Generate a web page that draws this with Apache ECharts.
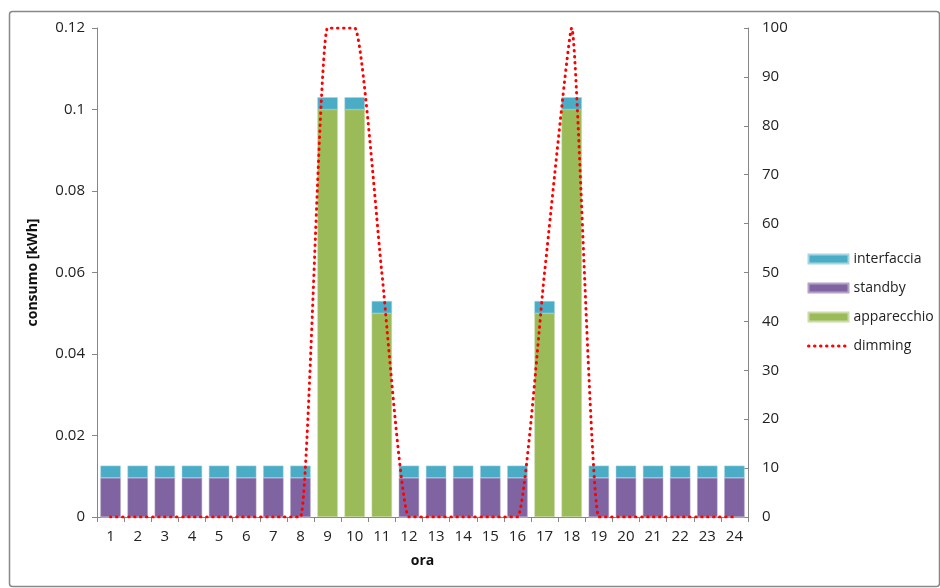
<!DOCTYPE html>
<html><head><meta charset="utf-8">
<script src="https://cdn.jsdelivr.net/npm/echarts@6/dist/echarts.min.js"></script>
<style>html,body{margin:0;padding:0;background:#fff}#c{width:940px;height:588px}</style>
</head><body><div id="c"></div>
<script>
const hours = ['1','2','3','4','5','6','7','8','9','10','11','12','13','14','15','16','17','18','19','20','21','22','23','24'];
const apparecchio = [0,0,0,0,0,0,0,0,0.1,0.1,0.05,0,0,0,0,0,0.05,0.1,0,0,0,0,0,0];
const standby = [0.0096,0.0096,0.0096,0.0096,0.0096,0.0096,0.0096,0.0096,0,0,0,0.0096,0.0096,0.0096,0.0096,0.0096,0,0,0.0096,0.0096,0.0096,0.0096,0.0096,0.0096];
const interfaccia = [0.003,0.003,0.003,0.003,0.003,0.003,0.003,0.003,0.003,0.003,0.003,0.003,0.003,0.003,0.003,0.003,0.003,0.003,0.003,0.003,0.003,0.003,0.003,0.003];
const dimming = [0,0,0,0,0,0,0,0,100,100,50,0,0,0,0,0,50,100,0,0,0,0,0,0];
const leftTicks = [0,0.02,0.04,0.06,0.08,0.1,0.12];

const font = 'Open Sans, Noto Sans, sans-serif';
const chart = echarts.init(document.getElementById('c'), null, {renderer:'canvas'});
const axisGray = '#868686';
const dotStyle = {color:'#FF0000',width:3,type:[0.5,5.5],cap:'round'};
chart.setOption({
  animation:false,
  graphic:[{type:'rect',left:7,top:9,shape:{width:930,height:575,r:3},style:{fill:'none',stroke:'#888',lineWidth:1.5},silent:true}],
  grid:{left:97,right:192,top:28,bottom:71},
  legend:{
    orient:'vertical', left:802, top:247, itemGap:15, itemWidth:40, itemHeight:9,
    textStyle:{fontFamily:font,fontSize:14,color:'#222'},
    data:[{name:'interfaccia',icon:'rect'},{name:'standby',icon:'rect'},{name:'apparecchio',icon:'rect'},
      {name:'dimming',itemStyle:{opacity:0},lineStyle:dotStyle}]
  },
  xAxis:{
    type:'category', data:hours, name:'ora', nameLocation:'middle', nameGap:37,
    nameTextStyle:{fontFamily:font,fontSize:14,fontWeight:'bold',color:'#111'},
    axisLine:{lineStyle:{color:axisGray}},
    axisTick:{show:true,length:5,lineStyle:{color:axisGray}},
    axisLabel:{fontFamily:font,fontSize:15,color:'#222',margin:12}
  },
  yAxis:[{
    type:'value', min:0, max:0.12, interval:0.02,
    name:'consumo [kWh]', nameLocation:'middle', nameGap:57, nameRotate:90,
    nameTextStyle:{fontFamily:font,fontSize:14,fontWeight:'bold',color:'#111'},
    axisLine:{show:true,lineStyle:{color:axisGray}},
    axisTick:{show:true,length:5,lineStyle:{color:axisGray}},
    splitLine:{show:false},
    axisLabel:{fontFamily:font,fontSize:15,color:'#222',margin:12,
      formatter:v=>{const t=leftTicks.find(x=>Math.abs(x-v)<1e-9);return t===undefined?'':String(+t.toFixed(2));}}
  },{
    type:'value', min:0, max:100, interval:10, position:'right',
    axisLine:{show:true,lineStyle:{color:axisGray}},
    axisTick:{show:true,inside:true,length:4,lineStyle:{color:axisGray}},
    splitLine:{show:false},
    axisLabel:{fontFamily:font,fontSize:15,color:'#222',margin:14}
  }],
  series:[
    {name:'apparecchio',type:'bar',stack:'s',data:apparecchio,barWidth:'75%',itemStyle:{color:'#9BBB59',borderColor:'#c9dca8',borderWidth:0.5}},
    {name:'standby',type:'bar',stack:'s',data:standby,itemStyle:{color:'#8064A2',borderColor:'#b3a2c8',borderWidth:0.5}},
    {name:'interfaccia',type:'bar',stack:'s',data:interfaccia,itemStyle:{color:'#4BACC6',borderColor:'#a5d5e2',borderWidth:0.5}},
    {name:'dimming',type:'line',yAxisIndex:1,data:dimming,smooth:0.15,symbol:'none',
      lineStyle:dotStyle,itemStyle:{color:'#FF0000'}}
  ]
});
</script></body></html>
